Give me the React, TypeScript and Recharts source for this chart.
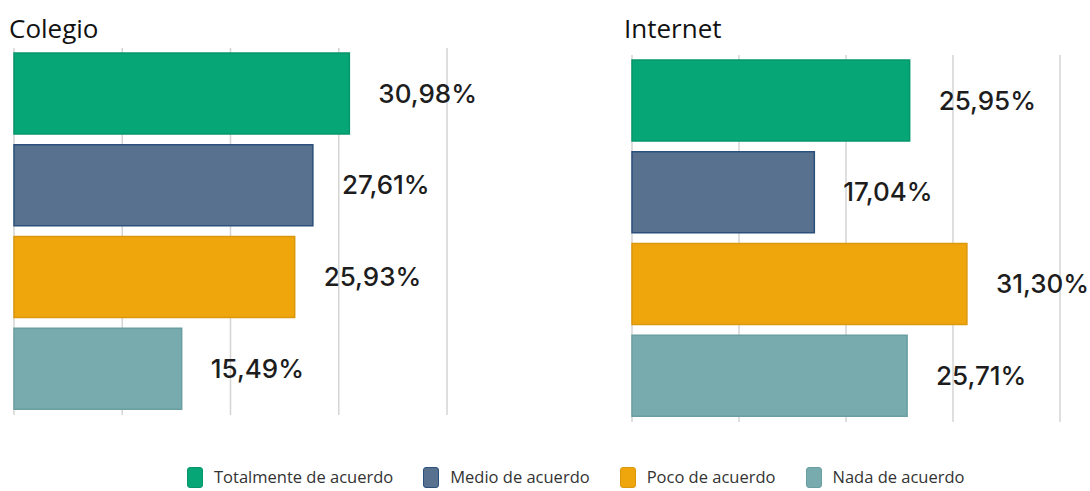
import { BarChart, Bar, XAxis, YAxis, CartesianGrid, Cell, LabelList } from "recharts";

const categories = ["Totalmente de acuerdo", "Medio de acuerdo", "Poco de acuerdo", "Nada de acuerdo"];
const colegioValues = [30.98, 27.61, 25.93, 15.49];
const internetValues = [25.95, 17.04, 31.3, 25.71];
const colors = ["#07a677", "#57718f", "#efa50c", "#77abae"];
const borders = ["#06966b", "#2c507c", "#dc980c", "#6a9fa2"];
const xTicks = [0, 10, 20, 30, 40];

const toRows = (values: number[]) =>
  categories.map((name, i) => ({ name, value: values[i] }));

const fmt = (v: any) => `${Number(v).toFixed(2).replace(".", ",")}%`;

// ticks must exist for the grid, but no labels are shown
const NoTick = () => <g />;

type PanelProps = {
  title: string;
  values: number[];
  left: number;
  titleLeft: number;
  margin: { top: number; right: number; bottom: number; left: number };
};

function Panel({ title, values, left, titleLeft, margin }: PanelProps) {
  return (
    <div style={{ position: "absolute", left, top: 0 }}>
      <div
        style={{
          position: "absolute",
          left: titleLeft,
          top: 10,
          fontFamily: "Open Sans",
          fontSize: 26,
          color: "#111",
          whiteSpace: "nowrap",
        }}
      >
        {title}
      </div>
      <BarChart
        width={530}
        height={440}
        data={toRows(values)}
        layout="vertical"
        margin={margin}
      >
        <CartesianGrid horizontal={false} stroke="#d4d4d4" strokeWidth={1.5} />
        <XAxis
          type="number"
          domain={[0, 40]}
          ticks={xTicks}
          interval={0}
          tick={NoTick}
          axisLine={false}
          tickLine={false}
          height={1}
        />
        <YAxis
          type="category"
          dataKey="name"
          tick={false}
          tickLine={false}
          axisLine={{ stroke: "#9a9a9a", strokeWidth: 1.5 }}
          width={0}
        />
        <Bar dataKey="value" barSize={81} isAnimationActive={false}>
          {values.map((_, i) => (
            <Cell key={i} fill={colors[i]} stroke={borders[i]} strokeWidth={1.5} />
          ))}
          <LabelList
            dataKey="value"
            position="right"
            offset={29}
            formatter={fmt}
            fill="#1d1d1d"
            fontSize={26}
            fontWeight={500}
            fontFamily="Inter"
          />
        </Bar>
      </BarChart>
    </div>
  );
}

export default function App() {
  return (
    <div
      style={{
        position: "absolute",
        left: 0,
        top: 0,
        width: 1090,
        height: 491,
        background: "#fff",
        overflow: "hidden",
      }}
    >
      <Panel
        title="Colegio"
        values={colegioValues}
        left={0}
        titleLeft={9}
        margin={{ top: 48, left: 14, right: 83, bottom: 24 }}
      />
      <Panel
        title="Internet"
        values={internetValues}
        left={560}
        titleLeft={64}
        margin={{ top: 55, left: 72, right: 30, bottom: 17 }}
      />
      {/* legend */}
      <div
        style={{
          position: "absolute",
          left: 187,
          top: 466,
          display: "flex",
          alignItems: "center",
          fontFamily: "Open Sans",
          fontSize: 16.5,
          lineHeight: "22px",
          color: "#333",
        }}
      >
        {categories.map((c, i) => (
          <div key={c} style={{ display: "flex", alignItems: "center", marginRight: 30 }}>
            <span
              style={{
                display: "inline-block",
                width: 16,
                height: 21,
                borderRadius: 3,
                background: colors[i],
                border: `1px solid ${borders[i]}`,
                boxSizing: "border-box",
                marginRight: 11,
              }}
            />
            <span>{c}</span>
          </div>
        ))}
      </div>
    </div>
  );
}
